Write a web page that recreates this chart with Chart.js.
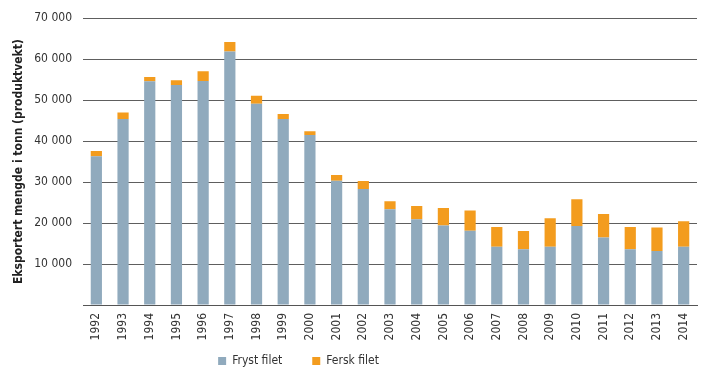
<!DOCTYPE html>
<html lang="no">
<head>
  <meta charset="UTF-8">
  <title>Eksport av filet</title>
  <script src="https://cdn.jsdelivr.net/npm/chart.js"></script>
  <style>
    html, body { margin: 0; padding: 0; background: #fff; }
    #wrap { width: 719px; height: 383px; }
  </style>
</head>
<body>
  <div id="wrap"><canvas id="filetChart" width="719" height="383"></canvas></div>

  <script>
    // data (tonn)
    const years = ['1992','1993','1994','1995','1996','1997','1998','1999','2000','2001','2002','2003',
                   '2004','2005','2006','2007','2008','2009','2010','2011','2012','2013','2014'];
    const frystFilet = [36300, 45400, 54600, 53700, 54700, 61900, 49100, 45400, 41500, 30300, 28300, 23400,
                        20900, 19400, 18100, 14200, 13600, 14200, 19300, 16500, 13600, 13200, 14200];
    const ferskFilet = [1300, 1600, 1050, 1150, 2350, 2300, 2000, 1200, 900, 1400, 1950, 1950,
                        3250, 4250, 4950, 4850, 4450, 6950, 6500, 5700, 5450, 5700, 6250];
    const yTicks = [0, 10000, 20000, 30000, 40000, 50000, 60000, 70000];

    const FONT = '"Liberation Sans Narrow", "DejaVu Sans Condensed", Arial, sans-serif';

    function formatNumber(v) {
      if (v === 0) return '';
      return String(v).replace(/\B(?=(\d{3})+(?!\d))/g, ' ');
    }

    // nudge the legend left and up like in the original
    const legendShift = {
      id: 'legendShift',
      afterLayout(chart) {
        const lg = chart.legend;
        lg.left -= 50; lg.right -= 50;
        lg.top -= 16;
      }
    };

    const ctx = document.getElementById('filetChart').getContext('2d');
    new Chart(ctx, {
      type: 'bar',
      data: {
        labels: years,
        datasets: [
          { label: 'Fryst filet', data: frystFilet, backgroundColor: '#90aabd' },
          { label: 'Fersk filet', data: ferskFilet, backgroundColor: '#f39c1e' }
        ]
      },
      options: {
        responsive: false,
        animation: false,
        layout: { padding: { left: 0, right: 22, top: 18, bottom: 2 } },
        datasets: { bar: { categoryPercentage: 1, barPercentage: 0.42 } },
        scales: {
          x: {
            stacked: true,
            grid: { display: false, drawTicks: false },
            border: { display: true, color: '#555', width: 1 },
            ticks: {
              color: '#333', font: { family: FONT, size: 12 },
              minRotation: 90, maxRotation: 90, padding: 8, autoSkip: false
            },
            afterFit(scale) { scale.height = 36; }
          },
          y: {
            stacked: true,
            min: 0, max: 70000,
            afterBuildTicks(scale) { scale.ticks = yTicks.map(v => ({ value: v })); },
            grid: { color: '#5e5e5e', lineWidth: 1, drawTicks: false },
            border: { display: false },
            ticks: {
              color: '#333', font: { family: FONT, size: 12 }, padding: 11,
              callback: v => formatNumber(v)
            },
            title: {
              display: true,
              text: 'Eksportert mengde i tonn (produktvekt)',
              color: '#222',
              font: { family: FONT, size: 12, weight: 'bold' },
              padding: { top: 12, bottom: 0 }
            },
            afterFit(scale) { scale.width = 83; }
          }
        },
        plugins: {
          legend: {
            position: 'bottom',
            maxHeight: 40,
            labels: {
              boxWidth: 8, boxHeight: 8, padding: 30,
              color: '#333', font: { family: FONT, size: 12 }
            }
          },
          tooltip: { enabled: false }
        }
      },
      plugins: [legendShift]
    });
  </script>
</body>
</html>
